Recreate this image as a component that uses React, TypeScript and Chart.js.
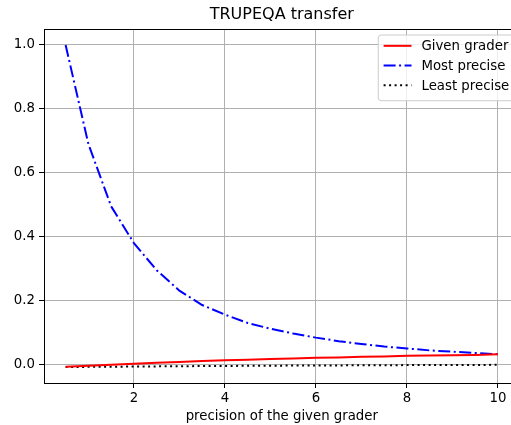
import React, { useEffect, useRef } from "react";
import { Chart, registerables } from "chart.js";

Chart.register(...registerables);

const titleText = "TRUPEQA transfer";
const xTitle = "precision of the given grader";
const xValues = [0.5, 1, 1.5, 2, 2.5, 3, 3.5, 4, 4.5, 5, 5.5, 6, 6.5, 7, 7.5, 8, 8.5, 9, 9.5, 10];
const givenGrader = [-0.007, -0.004, -0.001, 0.002, 0.005, 0.008, 0.011, 0.013, 0.015, 0.017, 0.019, 0.021, 0.022, 0.024, 0.025, 0.027, 0.028, 0.029, 0.030, 0.032];
const mostPrecise = [1.0, 0.69, 0.495, 0.38, 0.295, 0.231, 0.186, 0.156, 0.130, 0.112, 0.097, 0.084, 0.073, 0.064, 0.056, 0.050, 0.044, 0.040, 0.036, 0.032];
const leastPrecise = [-0.008, -0.0075, -0.007, -0.0065, -0.006, -0.0055, -0.005, -0.0046, -0.0042, -0.0038, -0.0035, -0.0032, -0.0029, -0.0026, -0.0023, -0.002, -0.0018, -0.0016, -0.0014, -0.0012];
const xTicks = [2, 4, 6, 8, 10];
const yTicks = [0, 0.2, 0.4, 0.6, 0.8, 1.0];
const seriesNames = ["Given grader", "Most precise", "Least precise"];

const FONT = "'DejaVu Sans', sans-serif";
const CANVAS_W = 540;
const CANVAS_H = 425;
const FS = 13.3;

const styles = [
  { color: "#ff0000", dash: [] as number[] },
  { color: "#0000ff", dash: [12, 3.5, 2, 3.5] },
  { color: "#000000", dash: [2, 3.5] },
];

const framePlugin = {
  id: "frameAndExtras",
  afterDatasetsDraw(chart: any) {
    const { ctx, chartArea } = chart;
    const { left, right, top, bottom } = chartArea;
    ctx.save();
    ctx.strokeStyle = "#000";
    ctx.lineWidth = 1;
    ctx.beginPath();
    ctx.moveTo(left, Math.round(top) + 0.5);
    ctx.lineTo(right, Math.round(top) + 0.5);
    ctx.moveTo(Math.round(right) - 0.5, top);
    ctx.lineTo(Math.round(right) - 0.5, bottom);
    ctx.stroke();
    ctx.restore();
  },
  afterDraw(chart: any) {
    const { ctx, chartArea } = chart;
    const { left, right, top } = chartArea;
    ctx.save();
    // title
    ctx.fillStyle = "#000";
    ctx.font = `16px ${FONT}`;
    ctx.textAlign = "center";
    ctx.textBaseline = "middle";
    ctx.fillText(titleText, (left + right) / 2, 15);

    // legend
    const fs = FS;
    ctx.font = `${fs}px ${FONT}`;
    let maxW = 0;
    seriesNames.forEach((n) => {
      maxW = Math.max(maxW, ctx.measureText(n).width);
    });
    const pad = 0.4 * fs;
    const handle = 2.1 * fs;
    const gap = 0.75 * fs;
    const rowH = 19.7;
    const boxW = pad + handle + gap + maxW + pad;
    const boxH = pad * 2 + rowH * 3 - 4;
    const bx = right - 5 - boxW;
    const by = top + 6;
    ctx.beginPath();
    const r = 3;
    ctx.moveTo(bx + r, by);
    ctx.lineTo(bx + boxW - r, by);
    ctx.quadraticCurveTo(bx + boxW, by, bx + boxW, by + r);
    ctx.lineTo(bx + boxW, by + boxH - r);
    ctx.quadraticCurveTo(bx + boxW, by + boxH, bx + boxW - r, by + boxH);
    ctx.lineTo(bx + r, by + boxH);
    ctx.quadraticCurveTo(bx, by + boxH, bx, by + boxH - r);
    ctx.lineTo(bx, by + r);
    ctx.quadraticCurveTo(bx, by, bx + r, by);
    ctx.closePath();
    ctx.fillStyle = "rgba(255,255,255,0.8)";
    ctx.fill();
    ctx.strokeStyle = "#cccccc";
    ctx.lineWidth = 1;
    ctx.stroke();

    seriesNames.forEach((n, i) => {
      const cy = by + pad + 5.5 + i * rowH;
      ctx.beginPath();
      ctx.setLineDash(styles[i].dash);
      ctx.strokeStyle = styles[i].color;
      ctx.lineWidth = 2;
      ctx.moveTo(bx + pad, cy);
      ctx.lineTo(bx + pad + handle, cy);
      ctx.stroke();
      ctx.setLineDash([]);
      ctx.fillStyle = "#000";
      ctx.textAlign = "left";
      ctx.textBaseline = "middle";
      ctx.fillText(n, bx + pad + handle + gap, cy + 1);
    });
    ctx.restore();
  },
};

export default function App() {
  const ref = useRef<HTMLCanvasElement | null>(null);
  useEffect(() => {
    if (!ref.current) return;
    const seriesData = [givenGrader, mostPrecise, leastPrecise];
    const chart = new Chart(ref.current, {
      type: "line",
      data: {
        datasets: seriesNames.map((name, i) => ({
          label: name,
          data: xValues.map((x, j) => ({ x, y: seriesData[i][j] })),
          borderColor: styles[i].color,
          backgroundColor: styles[i].color,
          borderDash: styles[i].dash,
          borderWidth: 2,
          pointRadius: 0,
          tension: 0,
          fill: false,
        })),
      },
      options: {
        responsive: false,
        animation: false,
        layout: { padding: { top: 29, left: 0, right: CANVAS_W - 519.6, bottom: 0 } },
        plugins: { legend: { display: false }, title: { display: false }, tooltip: { enabled: false } },
        scales: {
          x: {
            type: "linear",
            min: 0.025,
            max: 10.475,
            afterBuildTicks: (scale: any) => {
              scale.ticks = xTicks.map((v) => ({ value: v }));
            },
            afterFit: (scale: any) => {
              scale.height = 42;
            },
            ticks: {
              color: "#000",
              font: { family: FONT, size: FS },
              padding: 3,
              maxRotation: 0,
              callback: (v: any) => String(v),
            },
            grid: { color: "#b0b0b0", lineWidth: 1, tickColor: "#000", tickLength: 5, drawTicks: true },
            border: { display: true, color: "#000", width: 1 },
            title: { display: true, text: xTitle, color: "#000", font: { family: FONT, size: FS }, padding: { top: 0, bottom: 0 } },
          },
          y: {
            type: "linear",
            min: -0.058,
            max: 1.05,
            afterBuildTicks: (scale: any) => {
              scale.ticks = yTicks.map((v) => ({ value: v }));
            },
            afterFit: (scale: any) => {
              scale.width = 44;
            },
            ticks: {
              color: "#000",
              font: { family: FONT, size: FS },
              padding: 4,
              callback: (v: any) => Number(v).toFixed(1),
            },
            grid: { color: "#b0b0b0", lineWidth: 1, tickColor: "#000", tickLength: 5, drawTicks: true },
            border: { display: true, color: "#000", width: 1 },
          },
        },
      },
      plugins: [framePlugin],
    } as any);
    return () => chart.destroy();
  }, []);
  return (
    <div style={{ position: "absolute", left: 0, top: 0, width: 511, height: 425, overflow: "hidden", background: "#fff" }}>
      <canvas ref={ref} width={CANVAS_W} height={CANVAS_H} style={{ display: "block", width: CANVAS_W, height: CANVAS_H }} />
    </div>
  );
}
